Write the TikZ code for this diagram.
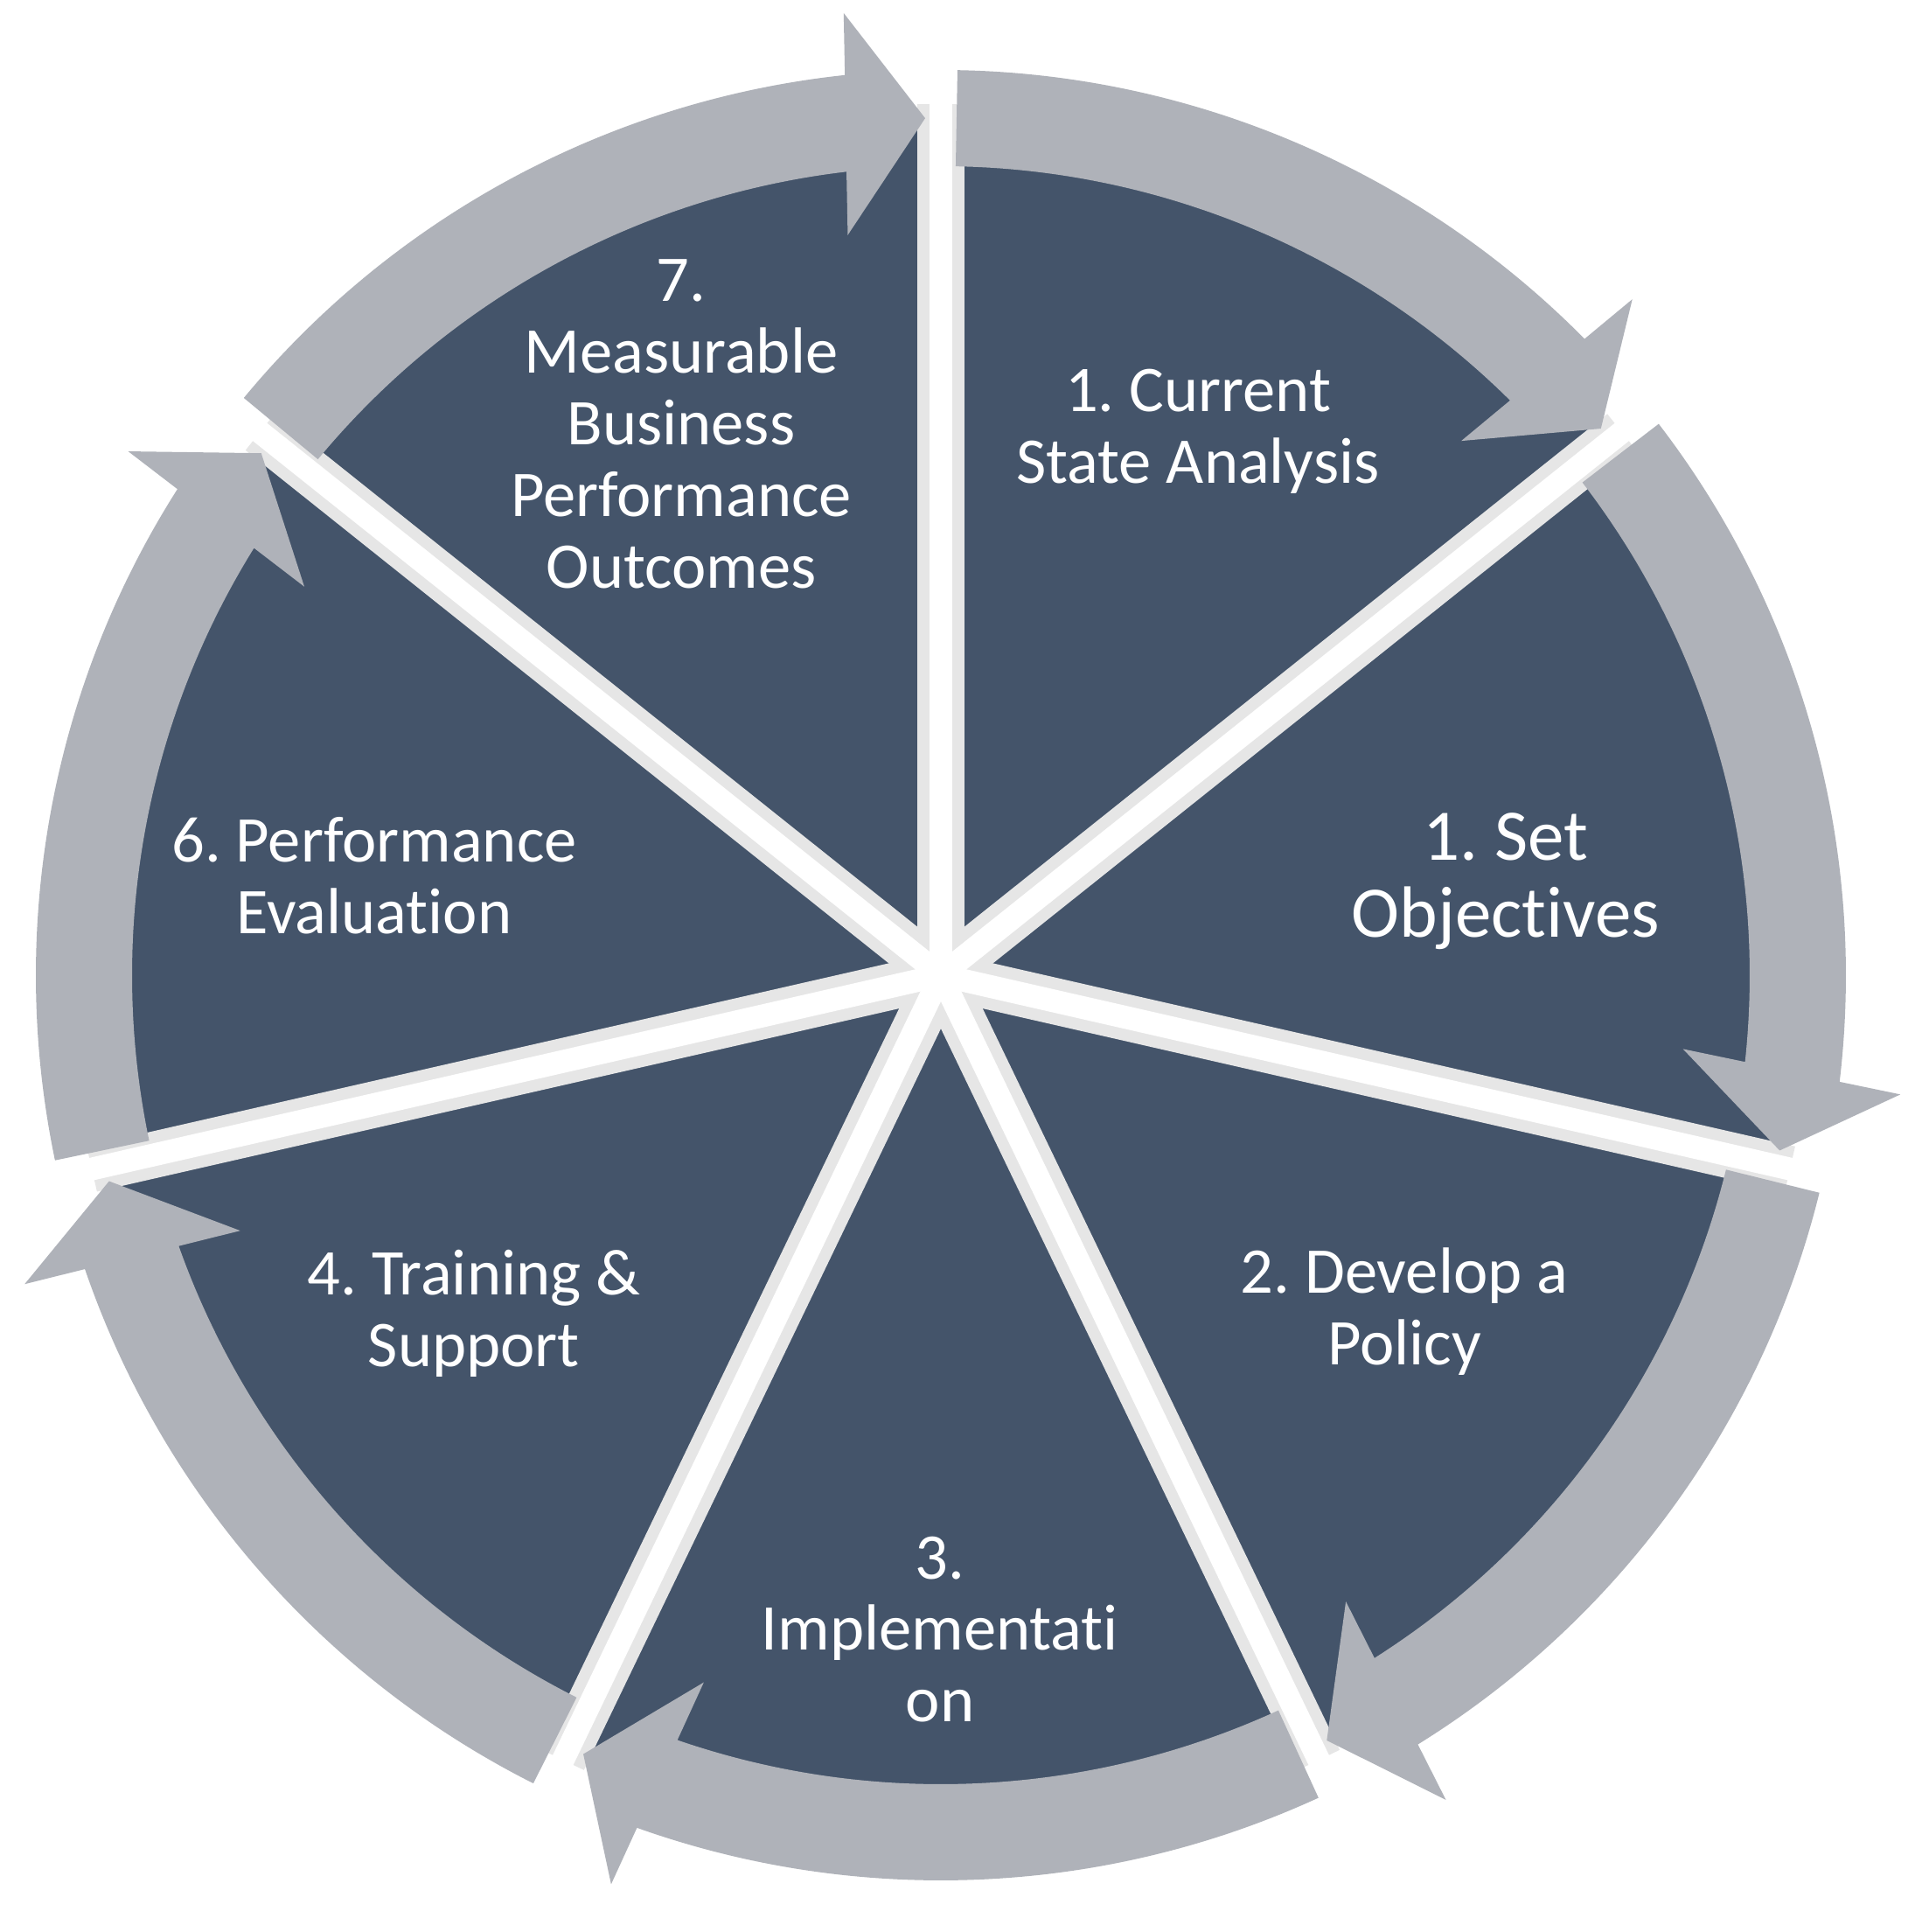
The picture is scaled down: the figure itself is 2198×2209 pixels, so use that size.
\documentclass[tikz,border=0pt]{standalone}
\usepackage{fontspec}
\setmainfont{Carlito}[Ligatures={NoCommon}]
\usetikzlibrary{calc}
\definecolor{wedgecol}{HTML}{44546A}
\definecolor{bandcol}{HTML}{AFB2B9}
\definecolor{stripcol}{HTML}{E6E6E6}
\frenchspacing
\begin{document}
\begin{tikzpicture}[x=0.01cm,y=0.01cm,
  lbl/.style={text=white, align=center, inner sep=0pt,
    font=\fontsize{21.2}{23.3}\selectfont},
  biglbl/.style={lbl, font=\fontsize{23.6}{25}\selectfont}]
\useasboundingbox (-1076,-1094) rectangle (1122,1115);
% pie
\fill[wedgecol] (0,0) circle[radius=990];
% separators
\foreach \k in {0,...,6}{
  \pgfmathsetmacro{\angB}{90-\k*360/7}
  \draw[stripcol, line width=0.53cm] (0,0) -- (\angB:996);
}
\foreach \k in {0,...,6}{
  \pgfmathsetmacro{\angB}{90-\k*360/7}
  \draw[white, line width=0.26cm] (0,0) -- (\angB:1000);
}
% circular arrows
\foreach \k in {0,...,6}{
  \pgfmathsetmacro{\angS}{90-\k*360/7-1.052}
  \pgfmathsetmacro{\angT}{90-(\k+1)*360/7+1.052}
  \pgfmathsetmacro{\angO}{\angT+5.04}
  \pgfmathsetmacro{\angI}{\angT+5.65}
  \fill[bandcol] (\angS:1035) arc[start angle=\angS, end angle=\angO, radius=1035]
    -- ($(\angT:1102)+(\angT+90:91)$) -- (\angT:980)
    -- ($(\angT:848)+(\angT+90:91)$)
    -- (\angI:925) arc[start angle=\angI, end angle=\angS, radius=925] -- cycle;
}
% labels
\node[lbl] (t1) at (294,622) {1. Current\\State Analysis};
\node[biglbl] (t2) at (646,107) {1. Set\\Objectives};
\node[lbl] (t3) at (530,-385) {2. Develop a\\Policy};
\node[lbl] (t4) at (-1,-748) {3.\\Implementati\\on};
\node[lbl] (t5) at (-534,-387) {4. Training \&\\Support};
\node[lbl] (t6) at (-648,114) {6. Performance\\Evaluation};
\node[lbl] (t7) at (-297,630) {7.\\Measurable\\Business\\Performance\\Outcomes};
\end{tikzpicture}
\end{document}
